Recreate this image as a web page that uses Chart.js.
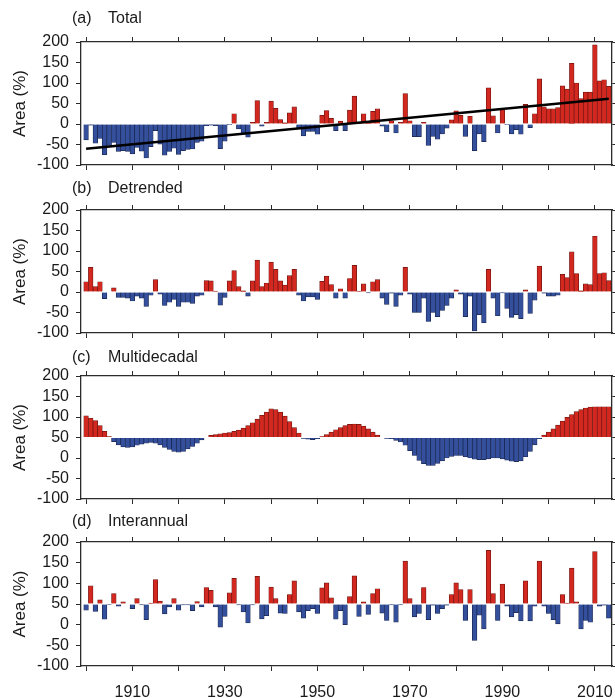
<!DOCTYPE html>
<html>
<head>
<meta charset="utf-8">
<title>Area anomalies</title>
<script src="https://cdn.jsdelivr.net/npm/chart.js@4.4.1/dist/chart.umd.min.js"></script>
<style>
  body { margin: 0; background: #fff; }
  #wrap { position: relative; width: 615px; height: 698px; }
  #wrap canvas { position: absolute; left: 0; }
</style>
</head>
<body>
<div id="wrap">
  <canvas id="panel-a" width="615" height="175" style="top:0px"></canvas>
  <canvas id="panel-b" width="615" height="165" style="top:175px"></canvas>
  <canvas id="panel-c" width="615" height="165" style="top:340px"></canvas>
  <canvas id="panel-d" width="615" height="193" style="top:505px"></canvas>
</div>
<script>
// years 1900 - 2013
var years = [];
for (var yr = 1900; yr <= 2013; yr++) years.push(yr);

var total = [
  -39, -3, -47, -35, -75, -52, -45, -67, -65, -67,
  -73, -57, -66, -83, -55, -16, -49, -76, -67, -59,
  -74, -65, -62, -61, -45, -42, -4, -3, -4, -60,
  -42, -1, 25, -12, -22, -32, 4, 57, -5, 4,
  56, 38, 11, 3, 27, 42, -12, -29, -18, -18,
  -25, 21, 33, 14, -16, 7, -16, 34, 68, 3,
  25, 3, 31, 37, -5, -19, 8, -22, 4, 74,
  8, -31, -31, 4, -52, -30, -37, -24, -10, 10,
  32, 21, -30, 19, -65, -24, -43, 88, 20, -22,
  35, -1, -24, -14, -25, 48, -9, 25, 110, 42,
  37, 37, 40, 93, 85, 148, 100, 62, 78, 78,
  193, 105, 108, 92
];

var detrended = [
  25, 60, 13, 25, -16, 0, 10, -13, -13, -15,
  -22, -10, -15, -35, -8, 30, -5, -33, -25, -18,
  -35, -25, -25, -28, -10, -8, 28, 27, 2, -32,
  -13, 27, 52, 13, 3, -10, 27, 78, 13, 22,
  73, 55, 27, 17, 40, 55, -8, -22, -12, -12,
  -18, 26, 39, 18, -15, 8, -15, 33, 65, 2,
  20, -2, 25, 30, -15, -30, -3, -35, -8, 60,
  -5, -50, -50, -15, -72, -50, -60, -45, -33, -15,
  5, -5, -60, -10, -95, -55, -75, 55, -15, -58,
  -2, -40, -62, -55, -65, 5, -52, -20, 63, -3,
  -10, -10, -8, 43, 35, 98, 45, 3, 20, 18,
  136, 45, 47, 28
];

var multidecadal = [
  103, 97, 91, 79, 65, 52, 40, 32, 27, 26,
  27, 31, 34, 36, 38, 36, 32, 26, 21, 16,
  14, 16, 22, 28, 36, 44, 50, 55, 57, 59,
  61, 62, 65, 68, 73, 79, 86, 95, 104, 112,
  120, 118, 112, 102, 89, 74, 61, 48, 46, 45,
  47, 52, 57, 63, 69, 74, 79, 82, 83, 82,
  78, 71, 63, 56, 50, 48, 47, 43, 39, 31,
  18, 6, -6, -14, -18, -18, -13, -7, 0, 4,
  6, 6, 3, 0, -3, -4, -4, -2, 0, 0,
  -2, -5, -8, -9, -7, 3, 16, 32, 47, 56,
  63, 71, 80, 90, 99, 106, 113, 118, 122, 124,
  125, 125, 125, 125
];

var interannual = [
  35, 94, 32, 60, 13, 49, 75, 45, 55, 50,
  39, 63, 48, 12, 52, 109, 57, 26, 43, 63,
  35, 48, 48, 34, 56, 43, 90, 83, 43, -6,
  20, 77, 112, 48, 31, 4, 48, 117, 14, 22,
  91, 63, 28, 27, 73, 106, 31, 16, 34, 39,
  27, 89, 101, 65, 13, 34, 0, 68, 118, 20,
  55, 25, 75, 87, 28, 10, 48, 6, 48, 154,
  63, 19, 27, 90, 12, 47, 27, 39, 47, 73,
  101, 85, 10, 85, -38, 23, -10, 180, 75, 10,
  98, 45, 19, 29, 9, 106, 9, 45, 154, 45,
  27, 12, 2, 73, 52, 137, 55, -10, 10, 6,
  177, 45, 47, 16
];

var yTicks = [-100, -50, 0, 50, 100, 150, 200];
var xTicks = [1900, 1910, 1920, 1930, 1940, 1950, 1960, 1970, 1980, 1990, 2000, 2010];
var xLabels = [1910, 1930, 1950, 1970, 1990, 2010];

var RED = '#d3281f', RED_EDGE = '#6e1510';
var BLUE = '#34509c', BLUE_EDGE = '#18244f';
var AXIS = '#2b2b2b', TEXT = '#1a1a1a';
var FONT = '"Liberation Sans", Arial, sans-serif';

// least squares line through the total series
function trendOf(xs, ys) {
  var n = xs.length, sx = 0, sy = 0, sxx = 0, sxy = 0;
  for (var i = 0; i < n; i++) {
    sx += xs[i]; sy += ys[i]; sxx += xs[i] * xs[i]; sxy += xs[i] * ys[i];
  }
  var b = (n * sxy - sx * sy) / (n * sxx - sx * sx);
  var a = (sy - b * sx) / n;
  return [{x: xs[0], y: a + b * xs[0]}, {x: xs[n - 1], y: a + b * xs[n - 1]}];
}

var panelLabel = {
  id: 'panelLabel',
  afterDraw: function (chart, args, opts) {
    var c = chart.ctx;
    c.save();
    c.font = '16px ' + FONT;
    c.fillStyle = TEXT;
    c.textBaseline = 'middle';
    c.textAlign = 'left';
    c.fillText(opts.tag, 72, opts.y);
    c.fillText(opts.name, 108, opts.y);
    c.restore();
  }
};

function xAxis(pos, h, labels) {
  return {
    type: 'linear', position: pos, min: 1898.9, max: 2013.7, offset: false,
    afterBuildTicks: function (s) { s.ticks = xTicks.map(function (v) { return {value: v}; }); },
    afterFit: function (s) { s.height = h; s.paddingLeft = 0; s.paddingRight = 0; },
    grid: { display: true, offset: false, drawOnChartArea: false, drawTicks: true, tickLength: 5, color: AXIS, lineWidth: 1 },
    border: { display: true, color: AXIS, width: 1.3 },
    ticks: {
      autoSkip: false, maxRotation: 0, padding: 12, color: TEXT, font: { family: FONT, size: 16 },
      callback: function (v) {
        var r = Math.round(v);
        return labels && xLabels.indexOf(r) >= 0 ? String(r) : '';
      }
    }
  };
}

function yAxis(pos, w, labels) {
  var ax = {
    type: 'linear', position: pos, min: -100, max: 200,
    afterBuildTicks: function (s) { s.ticks = yTicks.map(function (v) { return {value: v}; }); },
    afterFit: function (s) { s.width = w; s.paddingTop = 0; s.paddingBottom = 0; },
    grid: { display: true, offset: false, drawOnChartArea: false, drawTicks: true, tickLength: 5, color: AXIS, lineWidth: 1 },
    border: { display: true, color: AXIS, width: 1.3 },
    ticks: {
      autoSkip: false, padding: 7, color: TEXT, font: { family: FONT, size: 16 },
      callback: function (v) { return labels ? String(v) : ''; }
    }
  };
  if (labels) {
    ax.title = { display: true, text: 'Area (%)', color: TEXT, font: { family: FONT, size: 17 }, padding: { top: 10, bottom: 0 } };
  }
  return ax;
}

function drawPanel(id, values, base, tag, name, labelY, plotTop, bottomH, showYears, withTrend) {
  var pts = years.map(function (y, i) { return {x: y, y: values[i]}; });
  var datasets = [{
    type: 'bar',
    data: pts,
    base: base,
    order: 1,
    barPercentage: 1,
    categoryPercentage: 1,
    borderWidth: 0.7,
    backgroundColor: function (ctx) { return ctx.raw && ctx.raw.y >= base ? RED : BLUE; },
    borderColor: function (ctx) { return ctx.raw && ctx.raw.y >= base ? RED_EDGE : BLUE_EDGE; }
  }];
  if (withTrend) {
    datasets.push({
      type: 'line',
      data: trendOf(years, values),
      order: 0,
      borderColor: '#000',
      borderWidth: 2.6,
      pointRadius: 0,
      fill: false
    });
  }
  new Chart(document.getElementById(id), {
    type: 'bar',
    data: { datasets: datasets },
    plugins: [panelLabel],
    options: {
      responsive: false,
      animation: false,
      layout: { padding: 0 },
      plugins: {
        legend: { display: false },
        tooltip: { enabled: false },
        panelLabel: { tag: tag, name: name, y: labelY }
      },
      scales: {
        x: xAxis('bottom', bottomH, showYears),
        xTop: xAxis('top', plotTop, false),
        y: yAxis('left', 81, true),
        yRight: yAxis('right', 3, false)
      }
    }
  });
}

drawPanel('panel-a', total, 0, '(a)', 'Total', 19, 42, 10, false, true);
drawPanel('panel-b', detrended, 0, '(b)', 'Detrended', 14, 35, 7, false, false);
drawPanel('panel-c', multidecadal, 50, '(c)', 'Multidecadal', 18, 36, 6, false, false);
drawPanel('panel-d', interannual, 50, '(d)', 'Interannual', 17, 37, 32, true, false);
</script>
</body>
</html>
